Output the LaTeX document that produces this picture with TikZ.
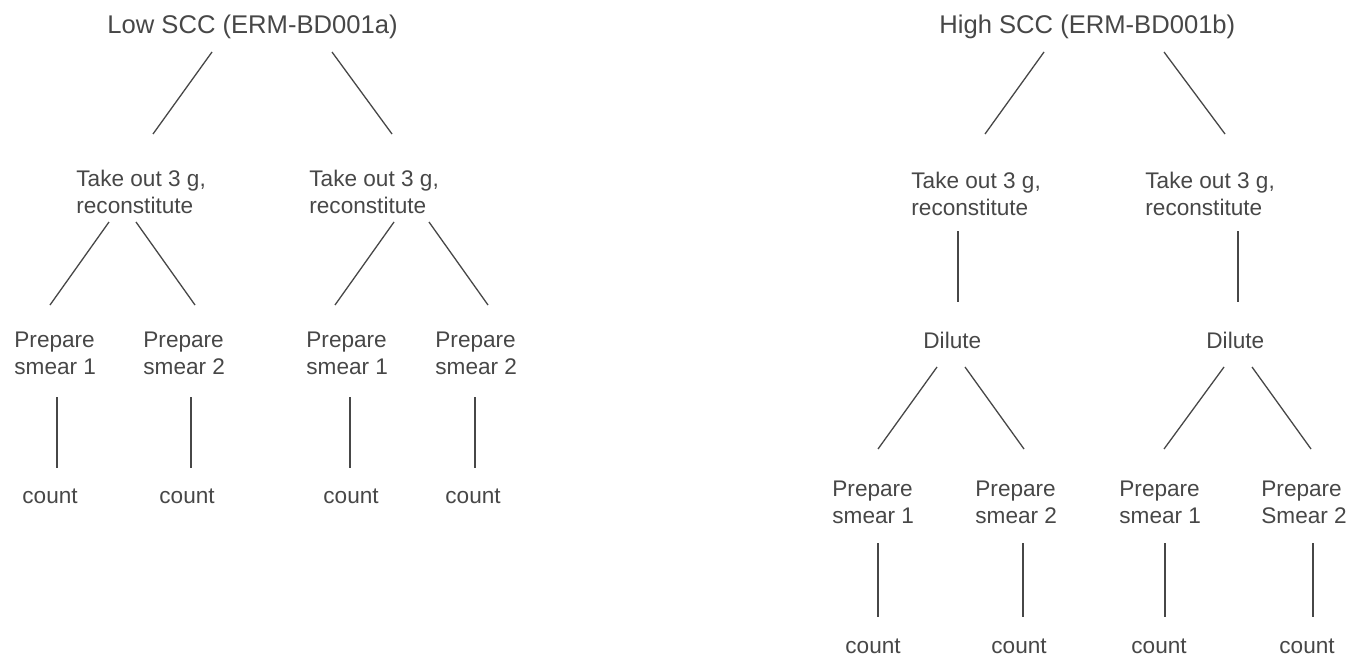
\documentclass[tikz,border=0pt]{standalone}
\usepackage{fontspec}
\setmainfont{Liberation Sans}
\usepackage{tikz}
\definecolor{inkgray}{HTML}{474747}

\begin{document}
\begin{tikzpicture}[
      x=0.5pt, y=-0.5pt,
      txt/.style={font=\fontsize{11.3}{13.5}\selectfont, text=inkgray, inner sep=0pt, align=left, anchor=north west},
      ttl/.style={txt, font=\fontsize{12.8}{15}\selectfont},
      cnt/.style={txt, anchor=base west},
      ln/.style={draw=inkgray, line width=0.65pt}]
    \useasboundingbox (0,0) rectangle (1352,658);
    % low SCC tree
    \node[ttl] (low) at (107,15) {Low SCC (ERM-BD001a)};
    \node[txt] (take1) at (76,170) {Take out 3 g,\\reconstitute};
    \node[txt] (take2) at (309,170) {Take out 3 g,\\reconstitute};
    \node[txt] (p11) at (14,332) {Prepare\\smear 1};
    \node[txt] (p12) at (143,332) {Prepare\\smear 2};
    \node[txt] (p21) at (306,332) {Prepare\\smear 1};
    \node[txt] (p22) at (435,332) {Prepare\\smear 2};
    \foreach \n/\x in {11/22, 12/159, 21/323, 22/445}
      \node[cnt] (c\n) at (\x,503) {count};
    \draw[ln] ([shift={(105,37)}]low.north west) -- ([shift={(77,-36)}]take1.north west);
    \draw[ln] ([shift={(225,37)}]low.north west) -- ([shift={(83,-36)}]take2.north west);
    \draw[ln] ([shift={(33,52)}]take1.north west) -- ([shift={(36,-27)}]p11.north west);
    \draw[ln] ([shift={(60,52)}]take1.north west) -- ([shift={(52,-27)}]p12.north west);
    \draw[ln] ([shift={(85,52)}]take2.north west) -- ([shift={(29,-27)}]p21.north west);
    \draw[ln] ([shift={(120,52)}]take2.north west) -- ([shift={(53,-27)}]p22.north west);
    \foreach \n/\a/\b in {11/43/35, 12/48/32, 21/44/27, 22/40/30}
      \draw[ln] ([shift={(\a,65)}]p\n.north west) -- ([shift={(\b,-35)}]c\n.base west);
    % high SCC tree
    \node[ttl] (high) at (939,15) {High SCC (ERM-BD001b)};
    \node[txt] (take3) at (911,172) {Take out 3 g,\\reconstitute};
    \node[txt] (take4) at (1145,172) {Take out 3 g,\\reconstitute};
    \node[txt] (dil3) at (923,332) {Dilute};
    \node[txt] (dil4) at (1206,332) {Dilute};
    \node[txt] (p31) at (832,481) {Prepare\\smear 1};
    \node[txt] (p32) at (975,481) {Prepare\\smear 2};
    \node[txt] (p41) at (1119,481) {Prepare\\smear 1};
    \node[txt] (p42) at (1261,481) {Prepare\\Smear 2};
    \foreach \n/\x in {31/845, 32/991, 41/1131, 42/1279}
      \node[cnt] (c\n) at (\x,653) {count};
    \draw[ln] ([shift={(105,37)}]high.north west) -- ([shift={(74,-38)}]take3.north west);
    \draw[ln] ([shift={(225,37)}]high.north west) -- ([shift={(80,-38)}]take4.north west);
    \draw[ln] ([shift={(47,59)}]take3.north west) -- ([shift={(35,-30)}]dil3.north west);
    \draw[ln] ([shift={(93,59)}]take4.north west) -- ([shift={(32,-30)}]dil4.north west);
    \draw[ln] ([shift={(14,35)}]dil3.north west) -- ([shift={(46,-32)}]p31.north west);
    \draw[ln] ([shift={(42,35)}]dil3.north west) -- ([shift={(49,-32)}]p32.north west);
    \draw[ln] ([shift={(18,35)}]dil4.north west) -- ([shift={(45,-32)}]p41.north west);
    \draw[ln] ([shift={(46,35)}]dil4.north west) -- ([shift={(50,-32)}]p42.north west);
    \foreach \n/\a/\b in {31/46/33, 32/48/32, 41/46/34, 42/52/34}
      \draw[ln] ([shift={(\a,62)}]p\n.north west) -- ([shift={(\b,-36)}]c\n.base west);
  \end{tikzpicture}
\end{document}
